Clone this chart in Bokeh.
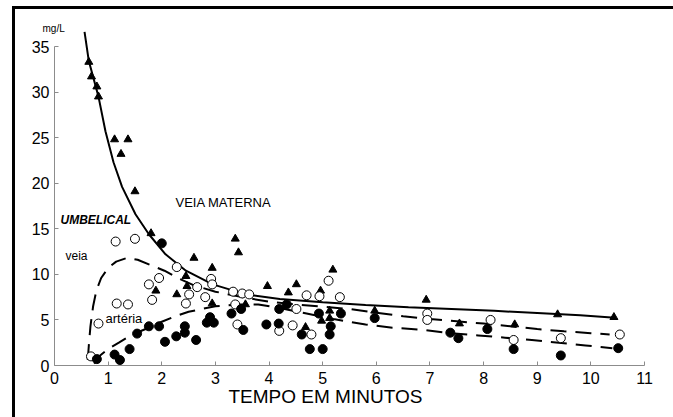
from bokeh.plotting import figure
from bokeh.models import LinearAxis, Range1d, Label, FixedTicker
from bokeh.embed import file_html
from bokeh.resources import INLINE

# ---------------- data ----------------
# maternal vein (VEIA MATERNA) – half-filled triangles
maternal_t = [0.64, 0.69, 0.79, 0.82, 1.12, 1.24, 1.37, 1.50, 1.80, 1.89, 2.28, 2.45, 2.47, 2.60,
              2.94, 2.94, 3.37, 3.43, 3.56, 3.97, 4.36, 4.51, 4.68, 4.96, 4.98, 5.13, 5.13, 5.19,
              5.97, 6.93, 7.55, 8.58, 9.38, 10.43]
maternal_c = [33.3, 31.7, 30.6, 29.5, 24.8, 23.2, 24.8, 19.1, 14.5, 8.2, 7.8, 9.8, 8.7, 11.8,
              10.7, 6.8, 13.9, 12.4, 6.7, 8.7, 8.0, 8.9, 4.2, 8.2, 4.9, 6.0, 5.2, 10.5,
              6.0, 7.2, 4.6, 4.5, 5.6, 5.3]

# umbilical vein (veia) – open circles
vein_t = [0.68, 0.82, 1.14, 1.16, 1.37, 1.50, 1.76, 1.82, 1.95, 2.28, 2.45, 2.51, 2.66, 2.81,
          2.92, 2.94, 3.33, 3.37, 3.41, 3.50, 3.63, 4.19, 4.44, 4.51, 4.70, 4.79, 4.94, 5.11,
          5.32, 6.95, 6.95, 8.13, 8.56, 9.44, 10.54]
vein_c = [1.0, 4.6, 13.6, 6.8, 6.7, 13.9, 8.9, 7.2, 9.6, 10.8, 6.8, 7.8, 8.6, 7.5,
          9.5, 8.9, 8.1, 6.7, 4.5, 7.9, 7.8, 3.8, 4.4, 6.2, 7.7, 3.4, 7.6, 9.3,
          7.5, 5.7, 5.0, 5.0, 2.8, 3.0, 3.4]

# umbilical artery (artéria) – filled circles
artery_t = [0.79, 1.12, 1.22, 1.40, 1.54, 1.76, 1.95, 2.00, 2.06, 2.27, 2.43, 2.43, 2.64, 2.84,
            2.97, 2.90, 3.30, 3.48, 3.52, 3.95, 4.18, 4.19, 4.33, 4.61, 4.76, 5.00, 4.93, 5.34,
            5.15, 5.13, 5.97, 7.38, 7.53, 8.07, 8.56, 9.44, 10.51]
artery_c = [0.7, 1.2, 0.6, 1.8, 3.5, 4.3, 4.3, 13.4, 2.6, 3.2, 4.3, 3.6, 2.8, 4.7,
            4.7, 5.3, 5.7, 6.2, 3.9, 4.5, 4.6, 6.2, 6.7, 3.4, 1.8, 1.8, 5.7, 5.7,
            4.3, 3.4, 5.2, 3.6, 3.0, 4.0, 1.8, 1.1, 1.9]

# fitted curves as drawn in the picture
maternal_fit_t = [0.56, 0.64, 0.82, 0.95, 1.10, 1.26, 1.51, 1.76, 2.07, 2.45, 2.95, 3.57, 4.2,
                  5.0, 5.8, 6.6, 7.4, 8.2, 9.0, 9.8, 10.45]
maternal_fit_c = [36.6, 33.4, 29.5, 25.7, 22.3, 19.6, 16.6, 14.4, 12.2, 10.4, 8.9, 7.8, 7.3,
                  6.95, 6.65, 6.4, 6.2, 6.0, 5.75, 5.5, 5.25]

vein_fit_t = [0.62, 0.64, 0.67, 0.72, 0.78, 0.87, 1.0, 1.15, 1.35, 1.55, 1.8, 2.05, 2.3, 2.6,
              3.0, 3.5, 4.0, 4.5, 5.0, 5.5, 6.0, 6.5, 7.0, 7.5, 8.0, 8.5, 9.0, 9.5, 10.0, 10.35]
vein_fit_c = [0.6, 2.2, 4.3, 6.5, 8.2, 9.6, 10.7, 11.4, 11.8, 11.6, 11.0, 10.4, 9.6, 8.8,
              8.1, 7.5, 7.0, 6.7, 6.45, 6.2, 5.8, 5.4, 5.1, 4.85, 4.6, 4.3, 4.0, 3.75, 3.55, 3.4]

artery_fit_t = [0.74, 0.85, 1.0, 1.2, 1.45, 1.7, 2.0, 2.25, 2.5, 2.75, 3.0, 3.4, 3.8, 4.2,
                4.7, 5.2, 5.8, 6.3, 6.8, 7.3, 7.9, 8.4, 8.9, 9.4, 9.9, 10.4]
artery_fit_c = [0.2, 1.1, 1.8, 2.5, 3.4, 4.0, 4.8, 5.4, 5.9, 6.2, 6.5, 6.7, 6.7, 6.3,
                5.7, 5.1, 4.5, 4.15, 3.95, 3.6, 3.3, 3.05, 2.8, 2.5, 2.2, 1.9]

x_ticks = list(range(0, 12))
y_ticks = list(range(0, 40, 5))

# ---------------- layout calibration (pixels) ----------------
W, H = 660, 410
X0_PX, X11_PX = 54.0, 644.0      # screen x of t=0 and t=11
Y0_PX, Y35_PX = 365.0, 46.0      # screen y of c=0 and c=35
sx = (X11_PX - X0_PX) / 11.0
sy = (Y0_PX - Y35_PX) / 35.0


def dx(px):
    return (px - X0_PX) / sx


def dy(py):
    return (Y0_PX - py) / sy


p = figure(width=W, height=H,
           x_range=Range1d(dx(0), dx(W)), y_range=Range1d(dy(H), dy(0)),
           x_axis_type=None, y_axis_type=None,
           toolbar_location=None, output_backend="svg",
           min_border=0, min_border_left=0, min_border_right=0,
           min_border_top=0, min_border_bottom=0,
           background_fill_color="white", border_fill_color="white")
p.outline_line_color = None

FONT = "Liberation Sans"
AX_COLOR = "#8c8c8c"

xaxis = LinearAxis(fixed_location=0, bounds=(0, 11), ticker=FixedTicker(ticks=x_ticks))
yaxis = LinearAxis(fixed_location=0, bounds=(0, 35), ticker=FixedTicker(ticks=y_ticks))
for ax in (xaxis, yaxis):
    ax.axis_line_color = AX_COLOR
    ax.axis_line_width = 1
    ax.major_tick_line_color = AX_COLOR
    ax.major_tick_in = 4
    ax.major_tick_out = 0
    ax.minor_tick_line_color = None
    ax.major_label_text_font = FONT
    ax.major_label_text_font_size = "16px"
    ax.major_label_text_color = "black"
xaxis.major_label_standoff = 6
yaxis.major_label_standoff = 5
p.add_layout(xaxis, "below")
p.add_layout(yaxis, "left")

# curves
p.line(maternal_fit_t, maternal_fit_c, line_color="black", line_width=2)
p.line(vein_fit_t, vein_fit_c, line_color="black", line_width=2, line_dash="16 9")
p.line(artery_fit_t, artery_fit_c, line_color="black", line_width=2, line_dash="16 9")

# points
p.scatter(maternal_t, maternal_c, marker="triangle", size=8,
          fill_color="black", line_color="black")
p.scatter(vein_t, vein_c, marker="circle", size=9,
          fill_color="white", line_color="black", line_width=1)
p.scatter(artery_t, artery_c, marker="circle", size=9,
          fill_color="black", line_color="black")


# texts
def add_text(txt, px, py, size, style="normal", align="left"):
    p.add_layout(Label(x=dx(px), y=dy(py), text=txt, text_font=FONT, text_font_size=size,
                       text_font_style=style, text_align=align, text_baseline="middle",
                       text_color="black"))


add_text("mg/L", 42, 28, "10px")
add_text("VEIA MATERNA", 175, 202, "13px")
add_text("UMBELICAL", 60, 219, "12px", "bold italic")
add_text("veia", 65, 255, "12px")
add_text("artéria", 105, 318, "13px")
add_text("TEMPO EM MINUTOS", 228, 396, "19px")

# page style: no margins/scrollbars, plus the top and left edges of the scanned figure's frame
css = ("<style>html,body{margin:0;padding:0;overflow:hidden;background:#ffffff}"
       "body::after{content:'';position:fixed;left:12px;top:6px;width:800px;height:600px;"
       "border-top:3px solid #000;border-left:3px solid #000;pointer-events:none;z-index:100}"
       "</style>")
html = file_html(p, INLINE)
html = html.replace("<head>", "<head>" + css, 1)
open("out.html", "w").write(html)
